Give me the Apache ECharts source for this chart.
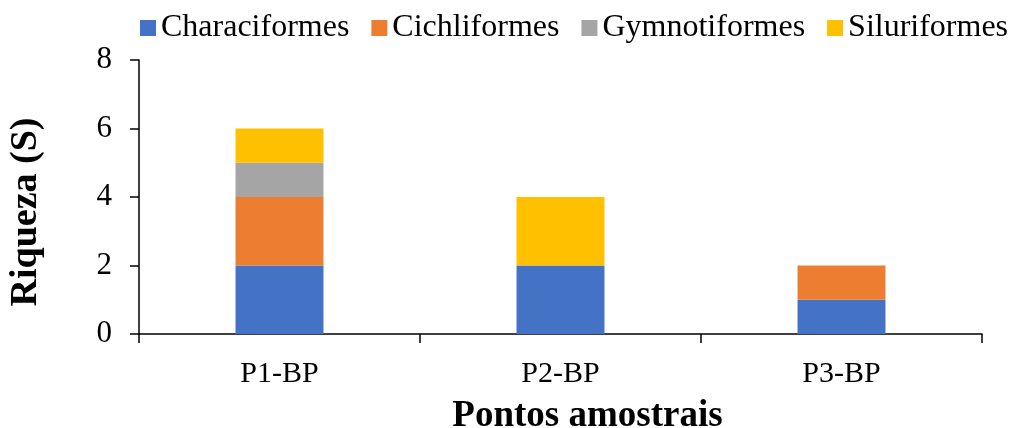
<!DOCTYPE html>
<html>
<head>
<meta charset="utf-8">
<script src="https://cdn.jsdelivr.net/npm/echarts@6/dist/echarts.min.js"></script>
<style>
  html, body { margin: 0; padding: 0; background: #fff; }
  #chart { width: 1011px; height: 428px; }
</style>
</head>
<body>
<div id="chart"></div>
<script>
// Sampling points and species richness per fish order
const categories = ['P1-BP', 'P2-BP', 'P3-BP'];
const characiformes = [2, 2, 1];
const cichliformes = [2, 0, 1];
const gymnotiformes = [1, 0, 0];
const siluriformes = [1, 2, 0];
const seriesNames = ['Characiformes', 'Cichliformes', 'Gymnotiformes', 'Siluriformes'];
const seriesColors = ['#4472C4', '#ED7D31', '#A5A5A5', '#FFC000'];
const seriesValues = [characiformes, cichliformes, gymnotiformes, siluriformes];

const FONT = '"Liberation Serif", "Times New Roman", serif';

const chart = echarts.init(document.getElementById('chart'), null, { renderer: 'canvas' });

chart.setOption({
  animation: false,
  textStyle: { fontFamily: FONT, color: '#000' },
  legend: {
    top: 12,
    left: 140,
    width: 900,
    padding: 0,
    itemWidth: 16,
    itemHeight: 16,
    itemGap: 22,
    icon: 'rect',
    textStyle: { fontFamily: FONT, fontSize: 32, color: '#000' },
    data: seriesNames
  },
  grid: { left: 139, right: 29, top: 60, bottom: 94, containLabel: false, outerBoundsMode: 'none' },
  xAxis: {
    type: 'category',
    data: categories,
    name: 'Pontos amostrais',
    nameLocation: 'middle',
    nameGap: 64,
    nameTextStyle: { fontFamily: FONT, fontSize: 37, fontWeight: 'bold', color: '#000', padding: [0, 0, 0, 54] },
    axisLine: { lineStyle: { color: '#000', width: 1.5 } },
    axisTick: { show: true, length: 9, lineStyle: { color: '#000', width: 1.5 } },
    axisLabel: { fontFamily: FONT, fontSize: 30, color: '#000', margin: 25 }
  },
  yAxis: {
    type: 'value',
    min: 0,
    max: 8,
    interval: 2,
    name: 'Riqueza (S)',
    nameLocation: 'middle',
    nameGap: 94,
    nameRotate: 90,
    nameTextStyle: { fontFamily: FONT, fontSize: 38, fontWeight: 'bold', color: '#000', padding: [0, 30, 0, 0] },
    axisLine: { show: true, lineStyle: { color: '#000', width: 1.5 } },
    axisTick: { show: true, length: 9, lineStyle: { color: '#000', width: 1.5 } },
    splitLine: { show: false },
    axisLabel: { fontFamily: FONT, fontSize: 31, color: '#000', margin: 27 }
  },
  series: seriesNames.map((name, i) => ({
    name: name,
    type: 'bar',
    stack: 'total',
    barWidth: '31.3%',
    itemStyle: { color: seriesColors[i] },
    data: seriesValues[i]
  }))
});
</script>
</body>
</html>
